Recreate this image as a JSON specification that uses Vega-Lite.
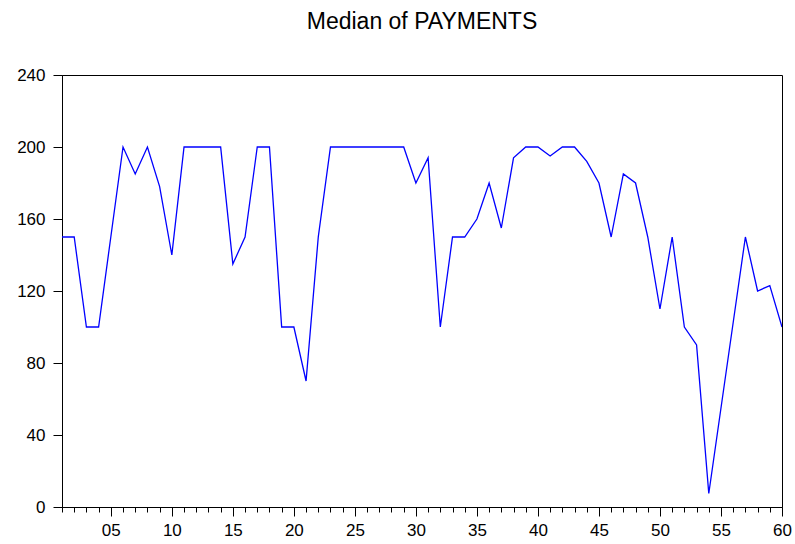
{
  "$schema": "https://vega.github.io/schema/vega-lite/v6.json",
  "width": 720,
  "height": 432,
  "autosize": {"type": "none"},
  "padding": {"left": 62, "top": 75, "right": 13, "bottom": 37},
  "background": "white",
  "title": {
    "text": "Median of PAYMENTS",
    "font": "Liberation Sans",
    "fontSize": 23,
    "fontWeight": "normal",
    "color": "black",
    "anchor": "middle",
    "offset": 14,
    "baseline": "alphabetic"
  },
  "config": {
    "view": {"stroke": "black", "strokeWidth": 1},
    "axis": {
      "domainColor": "black",
      "tickColor": "black",
      "labelColor": "black",
      "labelFont": "Liberation Sans",
      "labelFontSize": 17,
      "grid": false,
      "title": null
    }
  },
  "data": {
    "values": [
      {"t": 1, "v": 150}, {"t": 2, "v": 150}, {"t": 3, "v": 100}, {"t": 4, "v": 100},
      {"t": 5, "v": 150}, {"t": 6, "v": 200}, {"t": 7, "v": 185}, {"t": 8, "v": 200},
      {"t": 9, "v": 178}, {"t": 10, "v": 140}, {"t": 11, "v": 200}, {"t": 12, "v": 200},
      {"t": 13, "v": 200}, {"t": 14, "v": 200}, {"t": 15, "v": 135}, {"t": 16, "v": 150},
      {"t": 17, "v": 200}, {"t": 18, "v": 200}, {"t": 19, "v": 100}, {"t": 20, "v": 100},
      {"t": 21, "v": 70}, {"t": 22, "v": 150}, {"t": 23, "v": 200}, {"t": 24, "v": 200},
      {"t": 25, "v": 200}, {"t": 26, "v": 200}, {"t": 27, "v": 200}, {"t": 28, "v": 200},
      {"t": 29, "v": 200}, {"t": 30, "v": 180}, {"t": 31, "v": 194}, {"t": 32, "v": 100},
      {"t": 33, "v": 150}, {"t": 34, "v": 150}, {"t": 35, "v": 160}, {"t": 36, "v": 180},
      {"t": 37, "v": 155}, {"t": 38, "v": 194}, {"t": 39, "v": 200}, {"t": 40, "v": 200},
      {"t": 41, "v": 195}, {"t": 42, "v": 200}, {"t": 43, "v": 200}, {"t": 44, "v": 192},
      {"t": 45, "v": 180}, {"t": 46, "v": 150}, {"t": 47, "v": 185}, {"t": 48, "v": 180},
      {"t": 49, "v": 150}, {"t": 50, "v": 110}, {"t": 51, "v": 150}, {"t": 52, "v": 100},
      {"t": 53, "v": 90}, {"t": 54, "v": 7.5}, {"t": 55, "v": 55}, {"t": 56, "v": 102.5},
      {"t": 57, "v": 150}, {"t": 58, "v": 120}, {"t": 59, "v": 123}, {"t": 60, "v": 100}
    ]
  },
  "mark": {"type": "line", "color": "#0000FF", "strokeWidth": 1.3, "clip": true},
  "encoding": {
    "x": {
      "field": "t",
      "type": "quantitative",
      "scale": {"domain": [1, 60], "nice": false, "zero": false},
      "axis": {
        "values": [1,2,3,4,5,6,7,8,9,10,11,12,13,14,15,16,17,18,19,20,21,22,23,24,25,26,27,28,29,30,31,32,33,34,35,36,37,38,39,40,41,42,43,44,45,46,47,48,49,50,51,52,53,54,55,56,57,58,59,60],
        "labelExpr": "datum.value % 5 == 0 ? (datum.value < 10 ? '0' + datum.value : '' + datum.value) : ''",
        "labelOverlap": false,
        "labelFlush": false,
        "tickSize": {"condition": {"test": "datum.value % 5 == 0", "value": 9}, "value": 5},
        "labelPadding": 6
      }
    },
    "y": {
      "field": "v",
      "type": "quantitative",
      "scale": {"domain": [0, 240], "nice": false},
      "axis": {
        "values": [0, 40, 80, 120, 160, 200, 240],
        "tickSize": 9,
        "labelPadding": 8
      }
    }
  }
}
